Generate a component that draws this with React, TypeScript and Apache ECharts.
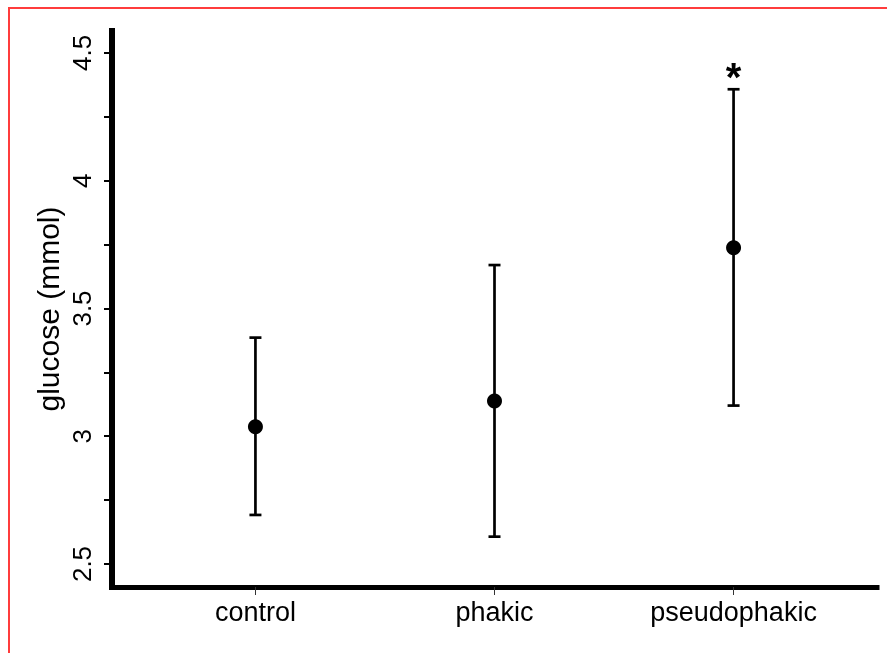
import React, { useEffect, useRef } from "react";
import * as echarts from "echarts";

const categories = ["control", "phakic", "pseudophakic"];
const positions = [1, 2, 3];
const means = [3.037, 3.138, 3.738];
const lowers = [2.692, 2.607, 3.12];
const uppers = [3.386, 3.67, 4.358];
const significance = ["", "", "*"];
const yTickValues = [2.5, 2.75, 3, 3.25, 3.5, 3.75, 4, 4.25, 4.5];
const yLabelValues = [2.5, 3, 3.5, 4, 4.5];

const FONT = "'Liberation Sans', Arial, Helvetica, sans-serif";

export default function App() {
  const ref = useRef<HTMLDivElement>(null);
  useEffect(() => {
    if (!ref.current) return;
    const chart = echarts.init(ref.current, null, { renderer: "svg" });
    const errData = positions.map((p, i) => [p, means[i], lowers[i], uppers[i], significance[i]]);
    chart.setOption({
      animation: false,
      backgroundColor: "transparent",
      textStyle: { fontFamily: FONT },
      grid: { left: 112, top: 31, width: 765, height: 556 },
      xAxis: {
        type: "value",
        min: 0.4,
        max: 3.6,
        splitLine: { show: false },
        axisLine: { show: true, lineStyle: { color: "#000", width: 5, cap: "square" } },
        axisTick: { show: true, customValues: positions, length: 8, lineStyle: { color: "#333", width: 1 } },
        axisLabel: {
          customValues: positions,
          formatter: (v: number) => categories[Math.round(v) - 1] ?? "",
          color: "#000",
          fontSize: 27,
          fontFamily: FONT,
          margin: 11,
        },
      },
      yAxis: {
        type: "value",
        min: 2.41,
        max: 4.586,
        name: "glucose (mmol)",
        nameLocation: "middle",
        nameRotate: 90,
        nameGap: 49,
        nameMoveOverlap: false,
        nameTextStyle: { color: "#000", fontSize: 30, fontFamily: FONT },
        splitLine: { show: false },
        axisLine: { show: true, lineStyle: { color: "#000", width: 6, cap: "square" } },
        axisTick: { show: true, customValues: yTickValues, length: 8, lineStyle: { color: "#000", width: 2 } },
        axisLabel: {
          customValues: yLabelValues,
          rotate: 90,
          formatter: (v: number) => String(v),
          color: "#000",
          fontSize: 26,
          fontFamily: FONT,
          margin: 17,
        },
      },
      series: [
        {
          type: "custom",
          data: errData,
          renderItem: (params: any, api: any) => {
            const x = api.value(0);
            const lo = api.coord([x, api.value(2)]);
            const hi = api.coord([x, api.value(3)]);
            const sig = api.value(4);
            const style = { stroke: "#000", lineWidth: 2.7 };
            const children: any[] = [
              { type: "line", shape: { x1: lo[0], y1: lo[1], x2: hi[0], y2: hi[1] }, style },
              { type: "line", shape: { x1: lo[0] - 6, y1: lo[1], x2: lo[0] + 6, y2: lo[1] }, style },
              { type: "line", shape: { x1: hi[0] - 6, y1: hi[1], x2: hi[0] + 6, y2: hi[1] }, style },
            ];
            if (sig) {
              children.push({
                type: "text",
                x: hi[0],
                y: hi[1] + 8,
                style: {
                  text: String(sig),
                  fill: "#000",
                  fontSize: 40,
                  fontWeight: "bold",
                  fontFamily: FONT,
                  align: "center",
                  verticalAlign: "bottom",
                },
              });
            }
            return { type: "group", children };
          },
          z: 2,
        },
        {
          type: "scatter",
          data: positions.map((p, i) => [p, means[i]]),
          symbol: "circle",
          symbolSize: 15,
          itemStyle: { color: "#000", opacity: 1 },
          z: 3,
        },
      ],
    });
    return () => chart.dispose();
  }, []);
  return (
    <div>
      <div
        style={{
          position: "fixed",
          left: 8,
          top: 7,
          width: 1000,
          height: 800,
          border: "2px solid rgb(255,60,60)",
          boxSizing: "border-box",
        }}
      />
      <div ref={ref} style={{ position: "fixed", left: 0, top: 0, width: 887, height: 653 }} />
    </div>
  );
}
